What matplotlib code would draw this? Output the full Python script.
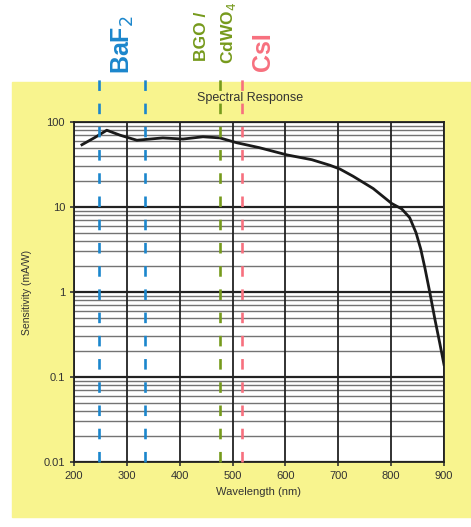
import numpy as np
import matplotlib
matplotlib.use('Agg')
import matplotlib.pyplot as plt
from matplotlib.patches import Rectangle

# spectral response curve
wavelength = [215, 240, 262, 287, 319, 368, 406, 444, 476, 508, 550, 603,
              650, 684, 703, 728, 766, 801, 820, 835, 847, 856, 864, 873,
              883, 892, 900]
sensitivity = [54, 66, 80, 70, 61, 65, 63, 67, 65, 57, 50, 41,
               36, 31, 28, 23, 16.5, 11, 9.5, 7.5, 5.0, 3.2, 1.9, 1.0,
               0.47, 0.25, 0.14]

# scintillator emission lines
baf2_nm = [247, 334]
bgo_nm = 476
csi_nm = 517

x_ticks = [200, 300, 400, 500, 600, 700, 800, 900]
y_ticks = [0.01, 0.1, 1, 10, 100]
y_ticklabels = ['0.01', '0.1', '1', '10', '100']

plt.rcParams['font.family'] = ['Liberation Sans', 'DejaVu Sans']

fig = plt.figure(figsize=(4.71, 5.27), dpi=100)

# yellow scanned page behind the chart
fig.patches.append(Rectangle((12 / 471, 1 - 517 / 527), 1 - 12 / 471, (517 - 82) / 527,
                             transform=fig.transFigure, color='#f8f48e', zorder=-5))

ax = fig.add_axes([74 / 471, 1 - 462 / 527, 370 / 471, 340 / 527])
ax.set_zorder(1)
ax.set_facecolor('white')
ax.set_yscale('log')
ax.set_xlim(200, 900)
ax.set_ylim(0.01, 100)

# grid
for dec in [0.01, 0.1, 1, 10]:
    for m in range(2, 10):
        ax.axhline(dec * m, color='#444444', lw=1.0, alpha=0.75, zorder=1)
for yv in y_ticks:
    ax.axhline(yv, color='#222222', lw=1.6, zorder=1)
for xv in x_ticks:
    ax.axvline(xv, color='#222222', lw=1.3, zorder=1)

ax.plot(wavelength, sensitivity, color='#1a1a1a', lw=2.0, zorder=3,
        solid_joinstyle='round')

# dashed markers
blue = '#1b86cc'
green = '#769a1c'
pink = '#f7707e'
for xv in baf2_nm:
    ax.axvline(xv, ymin=0, ymax=392 / 340, color=blue, lw=1.9, dashes=(4, 4.8),
               clip_on=False, zorder=4)
ax.axvline(bgo_nm, ymin=0, ymax=385 / 340, color=green, lw=1.9, dashes=(4, 4.8),
           clip_on=False, zorder=4)
ax.axvline(csi_nm, ymin=0, ymax=385 / 340, color=pink, lw=1.9, dashes=(4, 4.8),
           clip_on=False, zorder=4)

ax.set_xticks(x_ticks)
ax.set_xticklabels([str(v) for v in x_ticks])
ax.set_yticks(y_ticks)
ax.set_yticklabels(y_ticklabels)
ax.minorticks_off()
ax.tick_params(labelsize=8, colors='#333333', length=3, width=1.2)
for s in ax.spines.values():
    s.set_color('#222222')
    s.set_linewidth(1.3)

ax.set_xlabel('Wavelength (nm)', fontsize=8, color='#333333', labelpad=4)
ax.set_ylabel('Sensitivity (mA/W)', fontsize=7.5, color='#333333', labelpad=8)

fig.text(250 / 471, 1 - 98 / 527, 'Spectral Response', ha='center', va='center',
         fontsize=9, color='#333333')

fig.text(123 / 471, 1 - 45 / 527, r'BaF$_2$', rotation=90, ha='center', va='center',
         fontsize=18, fontweight='bold', color=blue)
fig.text(201 / 471, 1 - 36 / 527, 'BGO /', rotation=90, ha='center', va='center',
         fontsize=12.5, fontweight='bold', color=green)
fig.text(229 / 471, 1 - 33 / 527, r'CdWO$_4$', rotation=90, ha='center', va='center',
         fontsize=12.5, fontweight='bold', color=green)
fig.text(263 / 471, 1 - 52 / 527, 'CsI', rotation=90, ha='center', va='center',
         fontsize=18, fontweight='bold', color=pink)

fig.savefig('out.png', dpi=100)
